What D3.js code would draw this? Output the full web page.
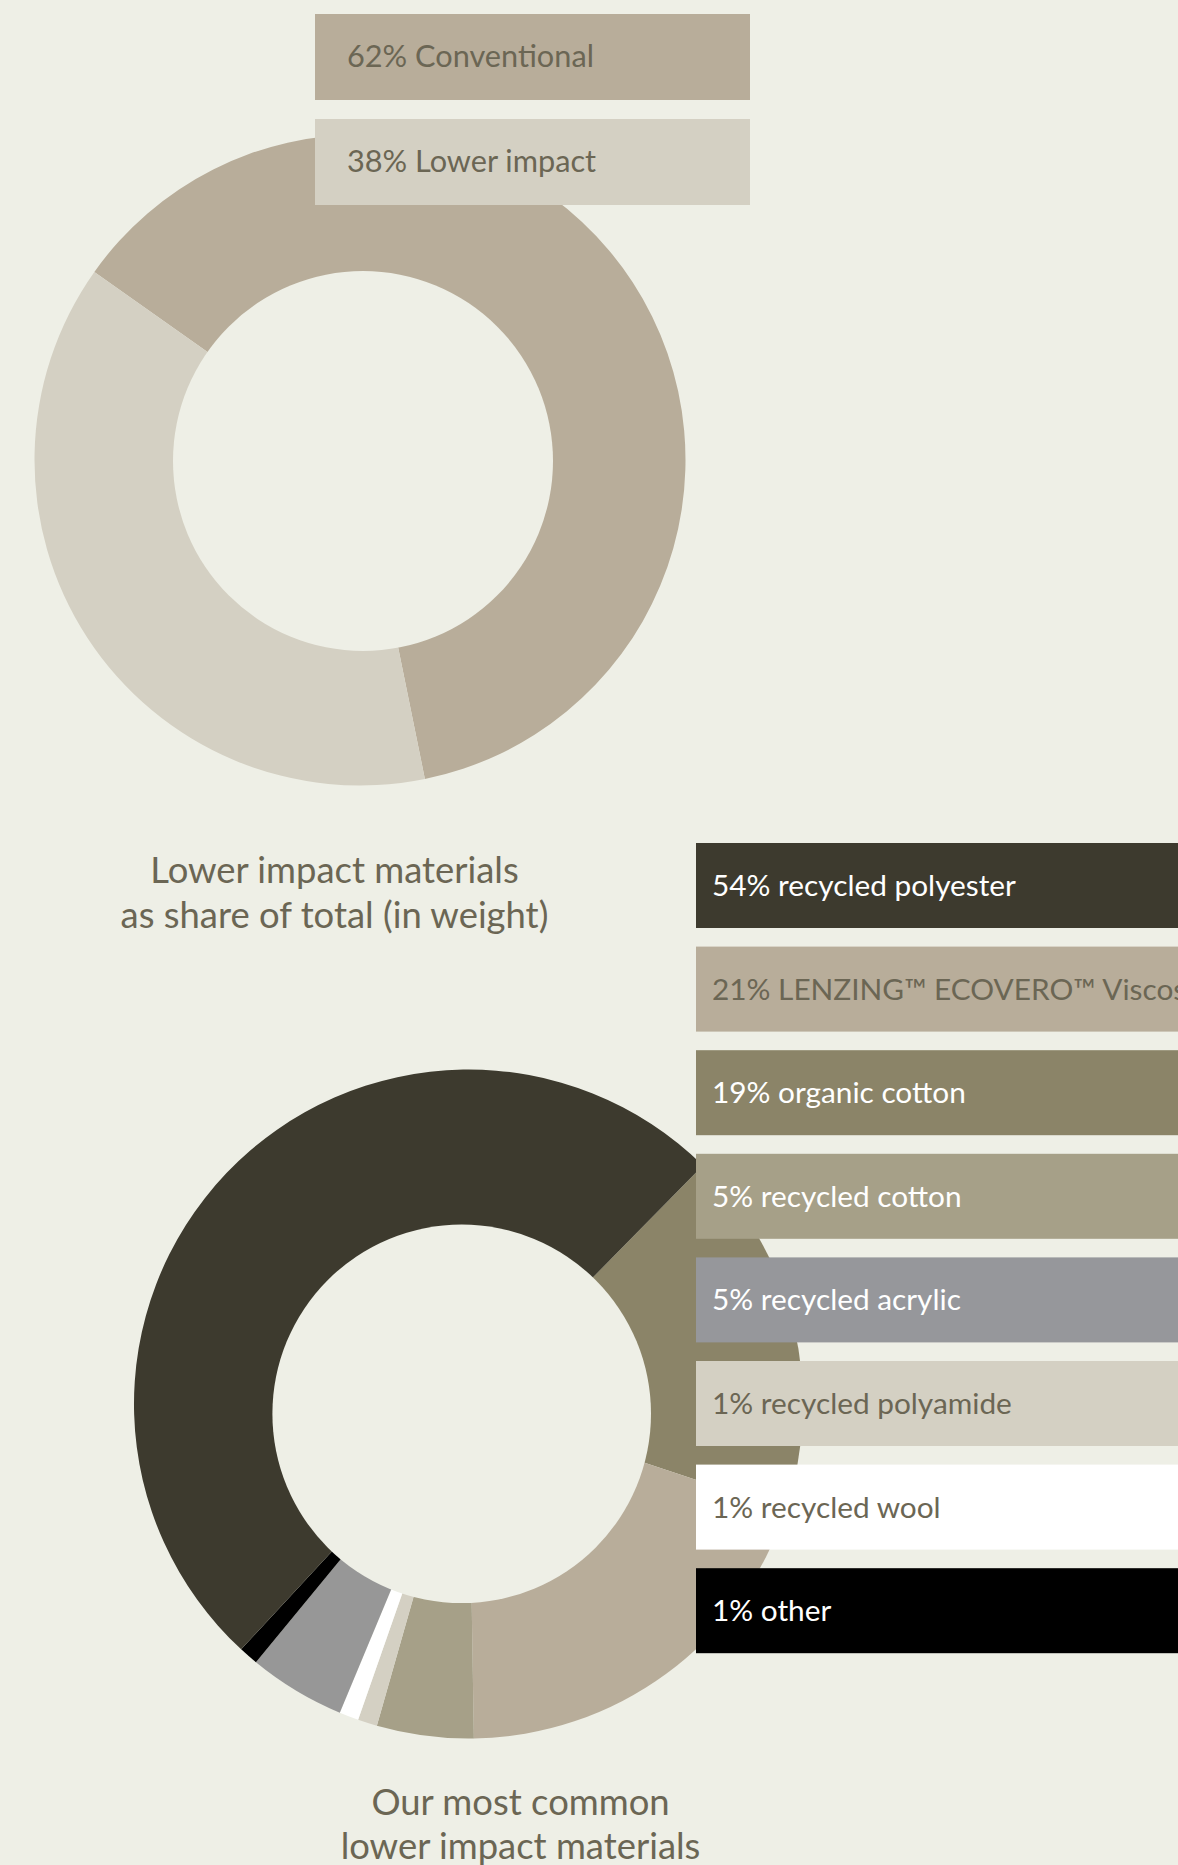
<!DOCTYPE html>
<html>
<head>
<meta charset="utf-8">
<script src="https://cdn.jsdelivr.net/npm/d3@7"></script>
<style>
  html, body { margin: 0; padding: 0; background: #eeefe6; }
  svg { display: block; }
</style>
</head>
<body>
<svg id="chart" width="1178" height="1865"></svg>
<script>
// Share of lower impact materials in total material weight
const overviewLabels = ["Conventional", "Lower impact"];
const overviewShares = [62, 38];

// Breakdown of the most common lower impact materials (legend order)
const materialLabels = [
  "recycled polyester",
  "LENZING™ ECOVERO™ Viscose",
  "organic cotton",
  "recycled cotton",
  "recycled acrylic",
  "recycled polyamide",
  "recycled wool",
  "other"
];
const materialShares = [54, 21, 19, 5, 5, 1, 1, 1];

// Clockwise order of the slices around the ring
const ringOrder = [
  "organic cotton",
  "LENZING™ ECOVERO™ Viscose",
  "recycled cotton",
  "recycled polyamide",
  "recycled wool",
  "recycled acrylic",
  "other",
  "recycled polyester"
];

const captionTop = ["Lower impact materials", "as share of total (in weight)"];
const captionBottom = ["Our most common", "lower impact materials"];

// ---- styling ----
const BG = "#eeefe6";
const INK = "#6b6654";
const FONT = "Lato, 'Open Sans', sans-serif";
const WEIGHT = 400;
const overviewColors = ["#b8ad9a", "#d4d0c3"];
const overviewText = [INK, INK];
const materialColors = ["#3d3a2e", "#b8ad9a", "#8b8468", "#a6a088", "#96979b", "#d4d0c3", "#ffffff", "#000000"];
const ringColors = ["#3d3a2e", "#b8ad9a", "#8b8468", "#a6a088", "#979797", "#d4d0c3", "#ffffff", "#000000"];
const materialText = ["#ffffff", INK, "#ffffff", "#ffffff", "#ffffff", INK, INK, "#ffffff"];

const svg = d3.select("#chart");
svg.append("rect").attr("width", 1178).attr("height", 1865).attr("fill", BG);

const deg = Math.PI / 180;

// font size that makes a sample string span a given width
function fitSize(sample, width) {
  const probe = svg.append("text")
    .attr("font-family", FONT).attr("font-weight", WEIGHT)
    .attr("font-size", 100).text(sample);
  const w = probe.node().getComputedTextLength();
  probe.remove();
  return 100 * width / w;
}

const captionSize = fitSize(captionTop[1], 428);
const topLegendSize = fitSize(`${overviewShares[0]}% ${overviewLabels[0]}`, 247);
const legendSize = fitSize(`${materialShares[0]}% ${materialLabels[0]}`, 304);

// A ring: slices fanning out from the pie centre, with a round hole punched on top
function ring(cfg, indices, values, colors) {
  const pie = d3.pie().sort(null).value(i => values[i])
    .startAngle(cfg.start).endAngle(cfg.start + 2 * Math.PI);
  const arc = d3.arc().innerRadius(0).outerRadius(cfg.r);
  const g = svg.append("g");
  g.append("g")
    .attr("transform", `translate(${cfg.cx},${cfg.cy})`)
    .selectAll("path")
    .data(pie(indices))
    .join("path")
    .attr("d", arc)
    .attr("fill", d => colors[d.data]);
  g.append("circle")
    .attr("cx", cfg.hx).attr("cy", cfg.hy).attr("r", cfg.hr)
    .attr("fill", BG);
}

// ---------- donut 1: conventional vs lower impact ----------
ring({ cx: 360, cy: 460, r: 325.5, hx: 363, hy: 461, hr: 190, start: -54.7 * deg },
     d3.range(overviewShares.length), overviewShares, overviewColors);

// ---------- donut 2: material breakdown ----------
ring({ cx: 468.5, cy: 1404, r: 334.5, hx: 461.7, hy: 1413.8, hr: 189.3, start: 44.5 * deg },
     ringOrder.map(name => materialLabels.indexOf(name)), materialShares, ringColors);

// ---------- legend for donut 1 ----------
const leg1 = { x: 315, y: 14, w: 435, h: 86, step: 105, padX: 32, base: 53 };
const g1 = svg.append("g").selectAll("g")
  .data(d3.range(overviewShares.length))
  .join("g")
  .attr("transform", i => `translate(${leg1.x},${leg1.y + i * leg1.step})`);
g1.append("rect").attr("width", leg1.w).attr("height", leg1.h)
  .attr("fill", i => overviewColors[i]);
g1.append("text")
  .attr("x", leg1.padX).attr("y", leg1.base)
  .attr("font-family", FONT).attr("font-weight", WEIGHT)
  .attr("font-size", topLegendSize)
  .attr("fill", i => overviewText[i])
  .text(i => `${overviewShares[i]}% ${overviewLabels[i]}`);

// ---------- legend for donut 2 ----------
const leg2 = { x: 696, y: 843, w: 520, h: 85, step: 103.6, padX: 16, base: 53 };
const g2 = svg.append("g").selectAll("g")
  .data(d3.range(materialShares.length))
  .join("g")
  .attr("transform", i => `translate(${leg2.x},${leg2.y + i * leg2.step})`);
g2.append("rect").attr("width", leg2.w).attr("height", leg2.h)
  .attr("fill", i => materialColors[i]);
g2.append("text")
  .attr("x", leg2.padX).attr("y", leg2.base)
  .attr("font-family", FONT).attr("font-weight", WEIGHT)
  .attr("font-size", legendSize)
  .attr("fill", i => materialText[i])
  .text(i => `${materialShares[i]}% ${materialLabels[i]}`);

// ---------- captions ----------
function caption(lines, cx, y0, lh) {
  svg.append("g").selectAll("text")
    .data(lines)
    .join("text")
    .attr("x", cx)
    .attr("y", (d, i) => y0 + i * lh)
    .attr("text-anchor", "middle")
    .attr("font-family", FONT)
    .attr("font-weight", WEIGHT)
    .attr("font-size", captionSize)
    .attr("fill", INK)
    .text(d => d);
}
caption(captionTop, 334.5, 883, 45);
caption(captionBottom, 520.5, 1815, 44);
</script>
</body>
</html>
